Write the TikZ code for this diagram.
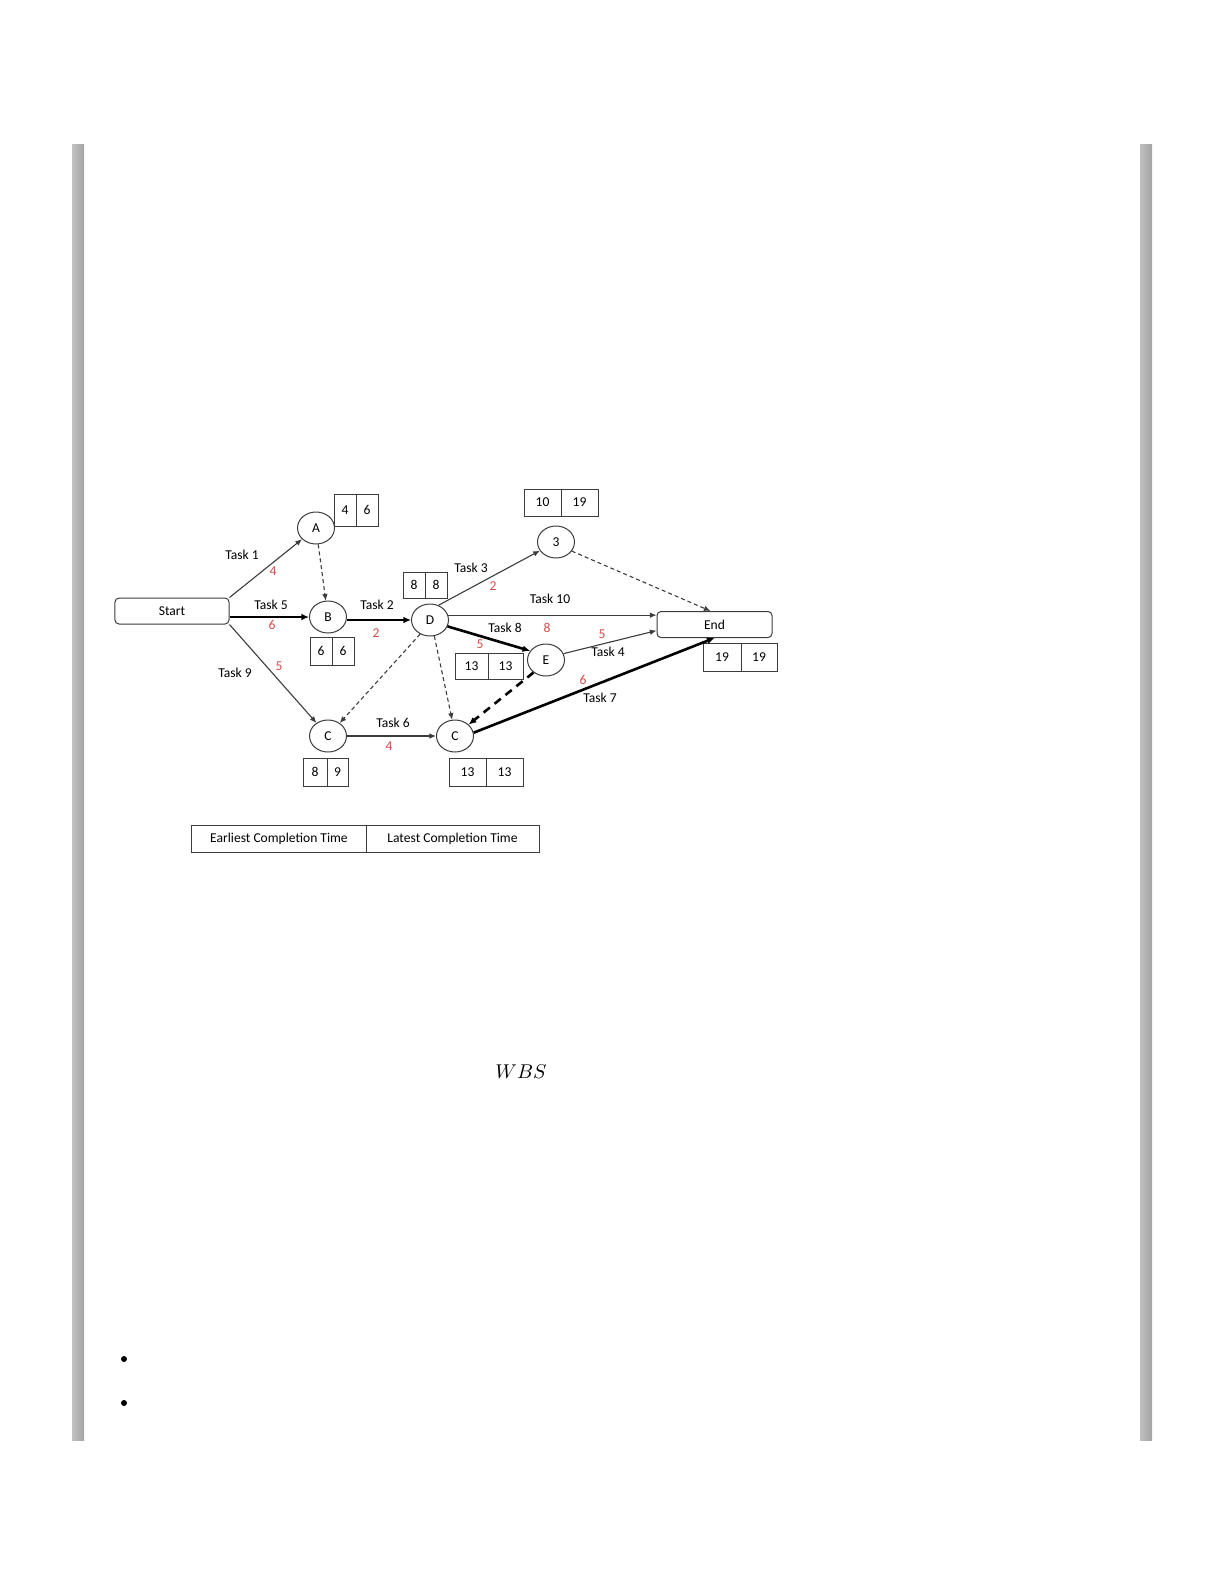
\documentclass[tikz,border=0pt]{standalone}
\usepackage{fontspec}
\newfontfamily\diag{Carlito}
\usetikzlibrary{shapes.geometric,arrows.meta}
\definecolor{numred}{RGB}{214,72,72}
\definecolor{lineg}{RGB}{60,60,60}
\begin{document}
\begin{tikzpicture}[x=0.5bp,y=-0.5bp,
  every node/.style={font=\diag\fontsize{6.8}{8}\selectfont},
  evt/.style={ellipse,draw=lineg,line width=0.5bp,minimum width=18.5bp,minimum height=16bp,inner sep=0pt},
  term/.style={draw=lineg,line width=0.5bp,rounded corners=2bp,minimum height=13bp,inner sep=0pt},
  cell/.style={draw=lineg,line width=0.5bp,inner sep=0pt},
  tlab/.style={inner sep=0pt},
  dur/.style={inner sep=0pt,text=numred},
  arrthin/.style={draw=lineg,line width=0.55bp,-{Latex[length=3.3bp,width=2.8bp]}},
  arrthick/.style={draw=black,line width=1.3bp,-{Latex[length=3.8bp,width=3.4bp]}},
  arrdash/.style={arrthin,dash pattern=on 2bp off 1.5bp},
  arrthickdash/.style={arrthick,dash pattern=on 4bp off 3bp},
]
\useasboundingbox (0,0) rectangle (1224,1584);
% page side bars
\shade[left color=gray!48,right color=gray!72] (72,144) rectangle (84,1440);
\shade[left color=gray!50,right color=gray!72] (1140,144) rectangle (1152,1440);

% terminals
\node[term,minimum width=57bp] (start) at (172,611) {Start};
\node[term,minimum width=57.5bp] (end) at (714.5,624.5) {End};

% events
\node[evt] (A) at (316,528) {A};
\node[evt] (B) at (328,617) {B};
\node[evt] (D) at (430,620) {D};
\node[evt] (n3) at (556,542) {3};
\node[evt] (E) at (546,660) {E};
\node[evt] (C1) at (328,736) {C};
\node[evt] (C2) at (455,736) {C};

% time boxes
\node[cell,minimum width=11bp,minimum height=16bp] (A1) at (345,510) {4};
\node[cell,minimum width=11bp,minimum height=16bp] (A2) at (367,510) {6};
\node[cell,minimum width=11bp,minimum height=14bp] (B1) at (321,651) {6};
\node[cell,minimum width=11bp,minimum height=14bp] (B2) at (343,651) {6};
\node[cell,minimum width=11bp,minimum height=13bp] (D1) at (414,585) {8};
\node[cell,minimum width=11bp,minimum height=13bp] (D2) at (436,585) {8};
\node[cell,minimum width=18.5bp,minimum height=13.5bp] (T1) at (542.5,502.5) {10};
\node[cell,minimum width=18.5bp,minimum height=13.5bp] (T2) at (579.5,502.5) {19};
\node[cell,minimum width=16.5bp,minimum height=13bp] (E1) at (471.5,666) {13};
\node[cell,minimum width=17.5bp,minimum height=13bp] (E2) at (505.5,666) {13};
\node[cell,minimum width=19bp,minimum height=14bp] (F1) at (722,657) {19};
\node[cell,minimum width=18bp,minimum height=14bp] (F2) at (759,657) {19};
\node[cell,minimum width=12bp,minimum height=14bp] (G1) at (315,772) {8};
\node[cell,minimum width=10.5bp,minimum height=14bp] (G2) at (337.5,772) {9};
\node[cell,minimum width=18.5bp,minimum height=14bp] (H1) at (467.5,772) {13};
\node[cell,minimum width=18.5bp,minimum height=14bp] (H2) at (504.5,772) {13};

% legend
\node[cell,minimum width=87bp,minimum height=13.5bp] (L1) at (279,838.5) {Earliest Completion Time};
\node[cell,minimum width=86.5bp,minimum height=13.5bp] (L2) at (452.5,838.5) {Latest Completion Time};

% connectors
\draw[arrthin] (start.north east) -- (A);
\draw[arrthick] (start.east |- B) -- (B);
\draw[arrthin] (start.south east) -- (C1);
\draw[arrdash] (A) -- (B);
\draw[arrthick] (B.east |- D.west) -- (D.west);
\draw[arrthin] (D.60) -- (n3);
\draw[arrthin] (D.15) -- (D.15 -| end.west);
\draw[arrthick] (D.-20) -- (E.150);
\draw[arrdash] (D.235) -- (C1);
\draw[arrdash] (D.285) -- (C2.100);
\draw[arrdash] (n3.-30) -- ([xshift=-2bp]end.north);
\draw[arrthin] (E.20) -- (end.186);
\draw[arrthickdash] (E.225) -- (C2.40);
\draw[arrthin] (C1) -- (C2);
\draw[arrthick] (C2.10) -- (end.south);

% task labels
\node[tlab] (t1) at (242,555) {Task 1};
\node[dur] (d1) at (273,571) {4};
\node[tlab] (t5) at (271,605) {Task 5};
\node[dur] (d5) at (272,625) {6};
\node[tlab] (t2) at (377,605) {Task 2};
\node[dur] (d2) at (376,633) {2};
\node[tlab] (t9) at (235,673) {Task 9};
\node[dur] (d9) at (279,666) {5};
\node[tlab] (t3) at (471,568) {Task 3};
\node[dur] (d3) at (493,586) {2};
\node[tlab] (t10) at (550,599) {Task 10};
\node[tlab] (t8) at (505,628) {Task 8};
\node[dur] (d10) at (547,628) {8};
\node[dur] (d8) at (480,644) {5};
\node[dur] (d4) at (602,634) {5};
\node[tlab] (t4) at (608,652) {Task 4};
\node[dur] (d7) at (583,680) {6};
\node[tlab] (t7) at (600,698) {Task 7};
\node[tlab] (t6) at (393,723) {Task 6};
\node[dur] (d6) at (389,746) {4};

% text below
\node[font=\rmfamily\fontsize{10}{12}\selectfont] (wbs) at (521,1072) {$WBS$};
\fill (124,1359) circle[radius=1.5bp];
\fill (124,1403) circle[radius=1.5bp];
\end{tikzpicture}
\end{document}
